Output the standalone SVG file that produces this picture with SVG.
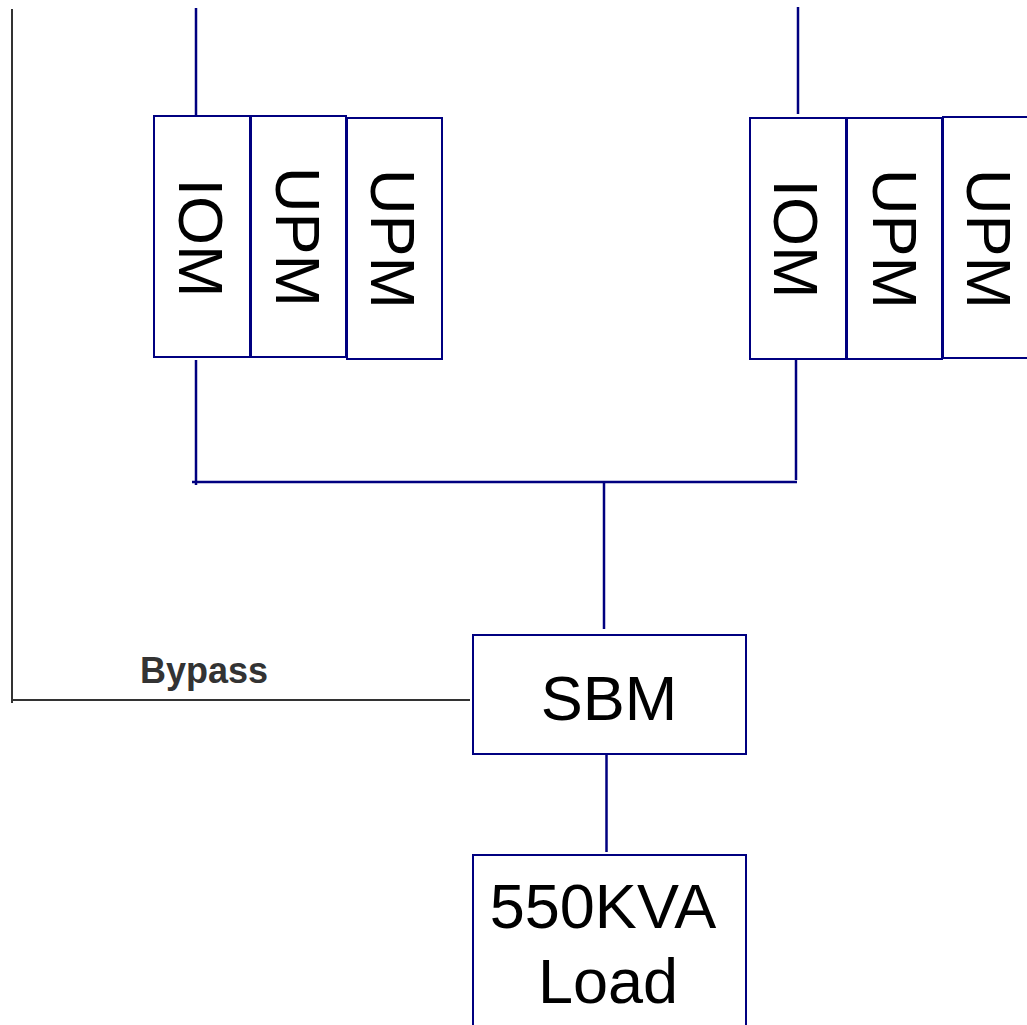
<svg xmlns="http://www.w3.org/2000/svg" width="1027" height="1025" viewBox="0 0 1027 1025">
<style>
.box{fill:#fff;stroke:#000080;stroke-width:2}
.lbl{font-family:"Liberation Sans",Arial,sans-serif;font-size:63px;fill:#000;text-anchor:middle}
.con{stroke:#000080;stroke-width:2.5;fill:none}
.byp{stroke:#333;stroke-width:2;fill:none}
</style>
<rect width="1027" height="1025" fill="#fff"/>
<g id="connectors">
<line class="con" x1="196" y1="8" x2="196" y2="116"/>
<line class="con" x1="798" y1="7" x2="798" y2="114"/>
<line class="con" x1="196" y1="360" x2="196" y2="485"/>
<line class="con" x1="796" y1="357" x2="796" y2="480"/>
<line class="con" x1="192" y1="482" x2="797" y2="482"/>
<line class="con" x1="604" y1="482" x2="604" y2="629"/>
<line class="con" x1="606.5" y1="755" x2="606.5" y2="852"/>
<polyline class="byp" points="12,9 12,703"/>
<line class="byp" x1="12" y1="700" x2="470" y2="700"/>
</g>
<g id="iom-left"><rect class="box" x="154" y="116" width="96" height="241"/><text class="lbl" transform="translate(179,238) rotate(90)">IOM</text></g>
<g id="upm-left-1"><rect class="box" x="251" y="116" width="95" height="241"/><text class="lbl" transform="translate(276,237) rotate(90)">UPM</text></g>
<g id="upm-left-2"><rect class="box" x="347" y="118" width="95" height="241"/><text class="lbl" transform="translate(371,239) rotate(90)">UPM</text></g>
<g id="iom-right"><rect class="box" x="750" y="118" width="96" height="241"/><text class="lbl" transform="translate(774,239) rotate(90)">IOM</text></g>
<g id="upm-right-1"><rect class="box" x="847" y="118" width="95" height="241"/><text class="lbl" transform="translate(873,239) rotate(90)">UPM</text></g>
<g id="upm-right-2"><rect class="box" x="943" y="117" width="100" height="241"/><text class="lbl" transform="translate(967,239) rotate(90)">UPM</text></g>
<g id="bypass-label"><text x="204" y="683" font-family="Liberation Sans,Arial,sans-serif" font-size="36" font-weight="bold" fill="#333" text-anchor="middle">Bypass</text></g>
<g id="sbm"><rect class="box" x="473" y="635" width="273" height="119"/><text class="lbl" x="609" y="720">SBM</text></g>
<g id="load"><rect class="box" x="473" y="855" width="273" height="185"/><text class="lbl" x="603" y="928">550KVA</text><text class="lbl" x="608" y="1003">Load</text></g>
</svg>
